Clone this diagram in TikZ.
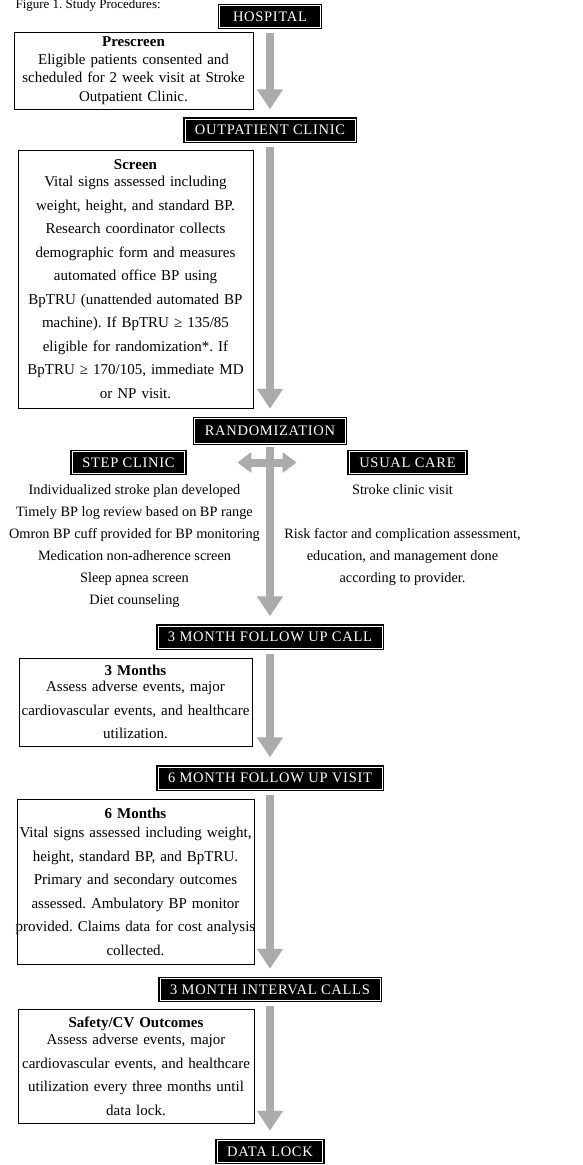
\documentclass[tikz,border=0pt]{standalone}
\usepackage{fontspec}
\setmainfont{Liberation Serif}
\newfontfamily\capsfont[LetterSpace=5]{Liberation Serif}
\usetikzlibrary{arrows.meta, positioning}
\frenchspacing
\tikzset{
  header/.style={rectangle, fill=black, draw=black, double=white, double distance=0.7pt, line width=1.5pt, text=white, font=\capsfont\fontsize{14.5}{16}\selectfont, inner xsep=10pt, minimum height=22pt},
  infobox/.style={rectangle, draw=black, line width=0.8pt, fill=white, align=center, inner sep=0pt, font=\fontsize{15}{23.5}\selectfont},
  plain/.style={align=center, font=\fontsize{14.3}{22}\selectfont},
  flow/.style={line width=8pt, draw=black!33, -{Triangle[width=25pt,length=20pt]}, shorten <=5pt, shorten >=9pt},
  split/.style={line width=8pt, draw=black!33, {Triangle[width=20pt,length=14pt]}-{Triangle[width=20pt,length=14pt]}}
}
\begin{document}
\begin{tikzpicture}[x=1pt, y=-1pt]
  \useasboundingbox (0,0) rectangle (582,1165);

  \node (title) [anchor=base west, font=\fontsize{13}{15}\selectfont] at (12,8) {Figure 1. Study Procedures:};

  % stage headers
  \node (hospital) [header, minimum width=101pt] at (270,16.5) {HOSPITAL};
  \node (outpatient) [header] at (270,130) {OUTPATIENT CLINIC};
  \node (random) [header, minimum height=25pt] at (270,431) {RANDOMIZATION};
  \node (stepclinic) [header] at (128.5,462.5) {STEP CLINIC};
  \node (usual) [header] at (407.5,462.5) {USUAL CARE};
  \node (call3) [header] at (270,637) {3 MONTH FOLLOW UP CALL};
  \node (visit6) [header] at (270,778) {6 MONTH FOLLOW UP VISIT};
  \node (calls) [header] at (270,989.5) {3 MONTH INTERVAL CALLS};
  \node (lock) [header] at (270,1151.5) {DATA LOCK};

  % detail boxes
  \node (prescreen) [infobox, text width=239pt, minimum height=77pt, font=\fontsize{15}{18.5}\selectfont] at (133.5,70.5)
    {\textbf{Prescreen}\\[-1pt] Eligible patients consented and\\ scheduled for 2 week visit at Stroke\\ Outpatient Clinic.};
  \node (screen) [infobox, text width=235pt, minimum height=258pt] at (135.5,279)
    {\textbf{Screen}\\[-6pt] Vital signs assessed including\\ weight, height, and standard BP.\\ Research coordinator collects\\ demographic form and measures\\ automated office BP using\\ BpTRU (unattended automated BP\\ machine). If BpTRU ≥ 135/85\\ eligible for randomization*. If\\ BpTRU ≥ 170/105, immediate MD\\ or NP visit.};
  \node (months3) [infobox, text width=233pt, minimum height=88pt] at (135.5,702)
    {\textbf{3 Months}\\[-7pt] Assess adverse events, major\\ cardiovascular events, and healthcare\\ utilization.};
  \node (months6) [infobox, text width=237pt, minimum height=165pt] at (135.5,881.5)
    {\textbf{6 Months}\\[-4pt] \makebox[\linewidth]{Vital signs assessed including weight,}\\ height, standard BP, and BpTRU.\\ Primary and secondary outcomes\\ assessed. Ambulatory BP monitor\\ \makebox[\linewidth]{provided. Claims data for cost analysis}\\ collected.};
  \node (safety) [infobox, text width=236pt, minimum height=114pt] at (136,1066)
    {\textbf{Safety/CV Outcomes}\\[-6pt] Assess adverse events, major\\ cardiovascular events, and healthcare\\ utilization every three months until\\ data lock.};

  % study arms
  \node (steplist) [plain, below=7pt of stepclinic, xshift=6pt]
    {Individualized stroke plan developed\\ Timely BP log review based on BP range\\ Omron BP cuff provided for BP monitoring\\ Medication non-adherence screen\\ Sleep apnea screen\\ Diet counseling};
  \node (usuallist) [plain, below=7pt of usual, xshift=-5pt]
    {Stroke clinic visit\\[22pt] Risk factor and complication assessment,\\ education, and management done\\ according to provider.};

  \draw [flow] (hospital.south) -- (outpatient.north);
  \draw [flow] (outpatient.south) -- (random.north);
  \draw [flow, shorten <=3pt] (random.south) -- (call3.north);
  \draw [split, shorten <=52pt, shorten >=52pt] (stepclinic.east) -- (usual.west);
  \draw [flow] (call3.south) -- (visit6.north);
  \draw [flow] (visit6.south) -- (calls.north);
  \draw [flow] (calls.south) -- (lock.north);

\end{tikzpicture}
\end{document}
